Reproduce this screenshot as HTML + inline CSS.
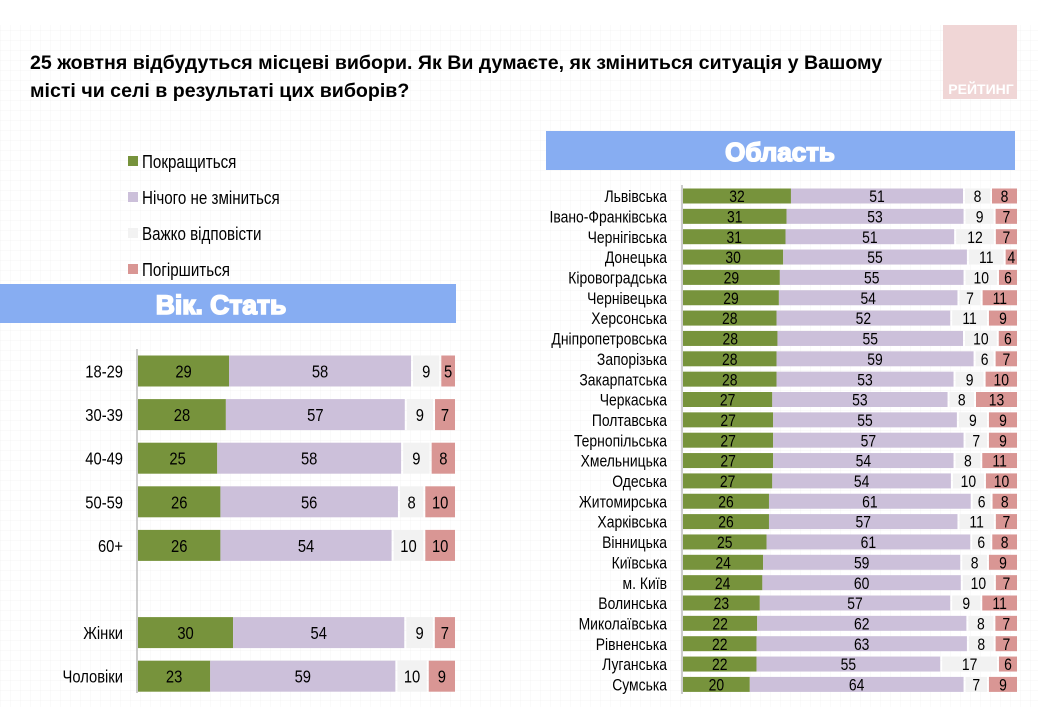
<!DOCTYPE html>
<html><head><meta charset="utf-8">
<style>
body{margin:0;width:1038px;height:707px;background:#fff;overflow:hidden;font-family:"Liberation Sans",sans-serif;}
svg{position:absolute;left:0;top:0}
</style></head>
<body>
<svg id="c" width="1038" height="707">
<defs><pattern id="grid" width="10" height="10" patternUnits="userSpaceOnUse"><path d="M10 0H0V10" fill="none" stroke="#ececec" stroke-width="0.6"/></pattern></defs>
<rect x="0" y="25" width="1038" height="682" fill="url(#grid)"/>
<text x="30" y="69" font-weight="bold" font-size="19.6" fill="#000">25 жовтня відбудуться місцеві вибори. Як Ви думаєте, як зміниться ситуація у Вашому</text>
<text x="30" y="97" font-weight="bold" font-size="19.6" fill="#000">місті чи селі в результаті цих виборів?</text>
<g><rect x="943" y="25" width="74" height="74" fill="#f0d6d6"/><text x="981" y="94" text-anchor="middle" font-weight="bold" font-size="14" fill="#fff">РЕЙТИНГ</text></g>
<g><rect x="0" y="284" width="456" height="39" fill="#87adf2"/><text x="221" y="314" text-anchor="middle" font-weight="900" font-size="26.5" fill="#fff" stroke="#fff" stroke-width="1.6">Вік. Стать</text></g>
<g><rect x="546" y="131" width="469" height="39" fill="#87adf2"/><text x="780" y="161" text-anchor="middle" font-weight="900" font-size="26" fill="#fff" stroke="#fff" stroke-width="1.6">Область</text></g>
<g id="legend"></g><g id="left"></g><g id="right"></g>
</svg>
<script>
const seriesNames=["Покращиться","Нічого не зміниться","Важко відповісти","Погіршиться"];
const colors=["#77933c","#ccc0da","#f2f2f2","#d99694"];
const leftCats=["18-29","30-39","40-49","50-59","60+","","Жінки","Чоловіки"];
const leftBetter=[29,28,25,26,26,null,30,23];
const leftSame=[58,57,58,56,54,null,54,59];
const leftHard=[9,9,9,8,10,null,9,10];
const leftWorse=[5,7,8,10,10,null,7,9];
const rightCats=["Львівська","Івано-Франківська","Чернігівська","Донецька","Кіровоградська","Чернівецька","Херсонська","Дніпропетровська","Запорізька","Закарпатська","Черкаська","Полтавська","Тернопільська","Хмельницька","Одеська","Житомирська","Харківська","Вінницька","Київська","м. Київ","Волинська","Миколаївська","Рівненська","Луганська","Сумська"];
const rightBetter=[32,31,31,30,29,29,28,28,28,28,27,27,27,27,27,26,26,25,24,24,23,22,22,22,20];
const rightSame=[51,53,51,55,55,54,52,55,59,53,53,55,57,54,54,61,57,61,59,60,57,62,63,55,64];
const rightHard=[8,9,12,11,10,7,11,10,6,9,8,9,7,8,10,6,11,6,8,10,9,8,8,17,7];
const rightWorse=[8,7,7,4,6,11,9,6,7,10,13,9,9,11,10,8,7,8,9,7,11,7,7,6,9];
const NS="http://www.w3.org/2000/svg";
const SX=0.82;
function el(t,a,p){const e=document.createElementNS(NS,t);for(const k in a)e.setAttribute(k,a[k]);p.appendChild(e);return e;}
function txt(p,x,y,s,fs,anchor){const t=el('text',{x:0,y:0,'font-size':fs,fill:'#000','text-anchor':anchor||'start',transform:`translate(${x},${y}) scale(${SX},1)`},p);t.textContent=s;return t;}
const lg=document.getElementById('legend');
seriesNames.forEach((n,i)=>{const y=162+i*36;
 const r=el('rect',{x:128,y:y-6,width:10,height:10,fill:colors[i]},lg);
 
 const t=txt(lg,142,y+6,n,18.5);
 });
function chart(g,cats,series,x0,width,rowY,barH,fs,labX,axisTop,axisBot){
 el('line',{x1:x0-1,y1:axisTop,x2:x0-1,y2:axisBot,stroke:'#999'},g);
 cats.forEach((c,i)=>{const y=rowY(i);
  if(c){const t=txt(g,labX,y+fs*0.36,c,fs,'end');
   }
  if(series[0][i]==null)return;
  const tot=series.reduce((a,s)=>a+s[i],0);const scale=width/tot;
  let x=x0;
  series.forEach((s,k)=>{const v=s[i];const w=v*scale;
   const r=el('rect',{x:x+(k>1?2:0),y:y-barH/2,width:w-(k>1?2:0),height:barH,fill:colors[k]},g);
   
   const t=txt(g,x+w/2+(k>1?1:0),y+fs*0.36,String(v),fs,'middle');
   
   x+=w;});});}
chart(document.getElementById('left'),leftCats,[leftBetter,leftSame,leftHard,leftWorse],138,317,i=>371+i*43.6,31,18,123,349,693);
chart(document.getElementById('right'),rightCats,[rightBetter,rightSame,rightHard,rightWorse],683,334,i=>196+i*20.35,15,17,667,185,694);
</script>
</body></html>
